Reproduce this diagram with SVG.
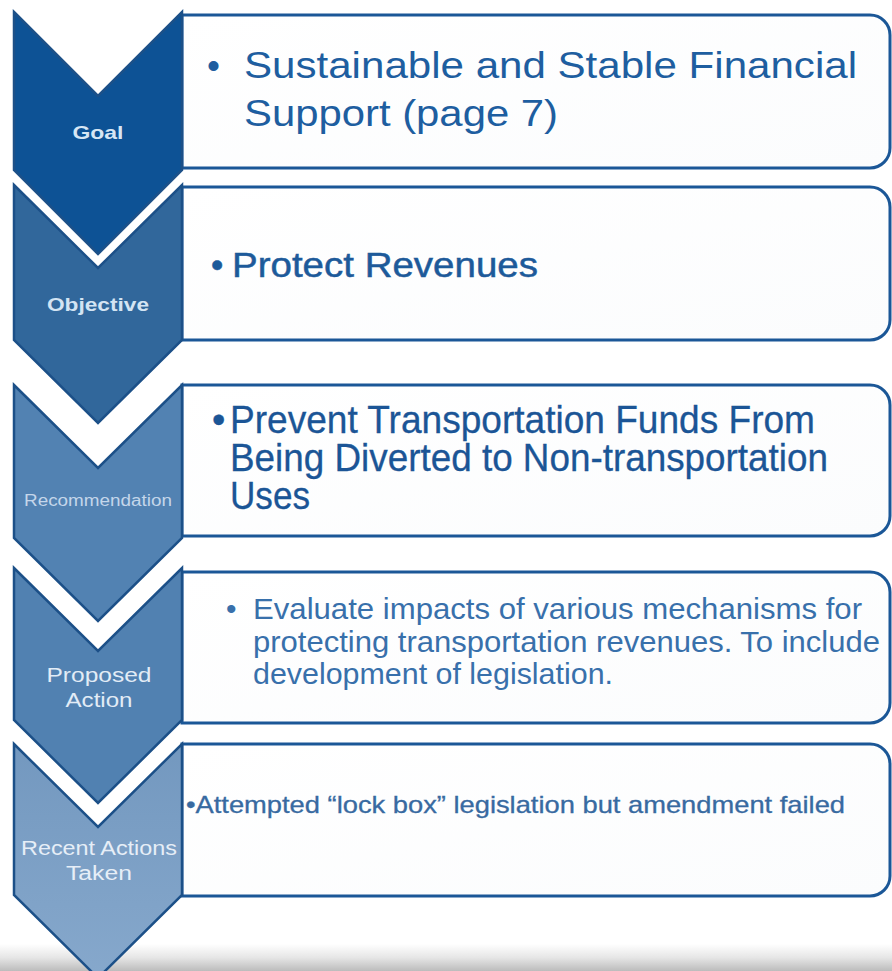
<svg xmlns="http://www.w3.org/2000/svg" width="892" height="971" viewBox="0 0 892 971">
<defs>
<linearGradient id="bar" x1="0" y1="0" x2="0" y2="1">
<stop offset="0" stop-color="#ffffff"/>
<stop offset="0.5" stop-color="#e6e6e6"/>
<stop offset="1" stop-color="#bcbcbc"/>
</linearGradient>
<linearGradient id="boxfill" x1="0" y1="0" x2="1" y2="1">
<stop offset="0" stop-color="#ffffff"/>
<stop offset="1" stop-color="#fbfcfd"/>
</linearGradient>
<linearGradient id="recentfill" x1="0" y1="0" x2="0" y2="1">
<stop offset="0" stop-color="#7398bf"/>
<stop offset="1" stop-color="#86a8cc"/>
</linearGradient>
</defs>
<style>
.box{fill:url(#boxfill);stroke:#1b5797;stroke-width:3}
.chev{stroke:#1c5088;stroke-width:2.5;stroke-linejoin:miter}
.lbl{font-family:"Liberation Sans",Arial,sans-serif;text-anchor:middle}
.txt{font-family:"Liberation Sans",Arial,sans-serif}
</style>
<rect x="0" y="0" width="892" height="971" fill="#ffffff"/>
<rect x="0" y="944" width="892" height="27" fill="url(#bar)"/>

<g id="node-goal">
<path class="box" d="M182,15 H870 A20,20 0 0 1 890,35 V148 A20,20 0 0 1 870,168 H182 Z"/>
<path class="chev" fill="#0d5295" stroke="#0d5295" d="M14,12 L98,96 L182,12 V170 L98,254 L14,170 Z"/>
<text class="lbl" x="98" y="139" font-size="19" font-weight="bold" fill="#d6e6f4" textLength="51" lengthAdjust="spacingAndGlyphs">Goal</text>
<text class="txt" x="207" y="78" font-size="37" fill="#1e5ea0">•</text>
<text class="txt" x="244" y="78" font-size="37" fill="#1e5ea0" textLength="613" lengthAdjust="spacingAndGlyphs">Sustainable and Stable Financial</text>
<text class="txt" x="244" y="126" font-size="37" fill="#1e5ea0" textLength="314" lengthAdjust="spacingAndGlyphs">Support (page 7)</text>
</g>

<g id="node-objective">
<path class="box" d="M182,187 H870 A20,20 0 0 1 890,207 V320 A20,20 0 0 1 870,340 H182 Z"/>
<path class="chev" fill="#31679b" d="M14,185 L98,268 L182,185 V340 L98,423 L14,340 Z"/>
<text class="lbl" x="98" y="311" font-size="19" font-weight="bold" fill="#d3e4f3" textLength="102" lengthAdjust="spacingAndGlyphs">Objective</text>
<text class="txt" x="211" y="277" font-size="35" fill="#1d5a9a" stroke="#1d5a9a" stroke-width="0.5">•</text>
<text class="txt" x="232" y="277" font-size="35" fill="#1d5a9a" stroke="#1d5a9a" stroke-width="0.5" textLength="306" lengthAdjust="spacingAndGlyphs">Protect Revenues</text>
</g>

<g id="node-recommendation">
<path class="box" d="M182,385 H870 A20,20 0 0 1 890,405 V516 A20,20 0 0 1 870,536 H182 Z"/>
<path class="chev" fill="#5282b2" d="M14,385 L98,468 L182,385 V538 L98,621 L14,538 Z"/>
<text class="lbl" x="98" y="506" font-size="16" fill="#c4d6ea" textLength="148" lengthAdjust="spacingAndGlyphs">Recommendation</text>
<text class="txt" x="212" y="433" font-size="38" fill="#1b5596" stroke="#1b5596" stroke-width="0.3">•</text>
<text class="txt" x="230" y="433" font-size="38" fill="#1b5596" stroke="#1b5596" stroke-width="0.3" textLength="585" lengthAdjust="spacingAndGlyphs">Prevent Transportation Funds From</text>
<text class="txt" x="230" y="471" font-size="38" fill="#1b5596" stroke="#1b5596" stroke-width="0.3" textLength="598" lengthAdjust="spacingAndGlyphs">Being Diverted to Non-transportation</text>
<text class="txt" x="230" y="509" font-size="38" fill="#1b5596" stroke="#1b5596" stroke-width="0.3" textLength="80" lengthAdjust="spacingAndGlyphs">Uses</text>
</g>

<g id="node-proposed">
<path class="box" d="M182,572 H870 A20,20 0 0 1 890,592 V703 A20,20 0 0 1 870,723 H182 Z"/>
<path class="chev" fill="#5181b1" d="M14,568 L98,651 L182,568 V720 L98,803 L14,720 Z"/>
<text class="lbl" x="99" y="682" font-size="21" fill="#e2ecf6" textLength="105" lengthAdjust="spacingAndGlyphs">Proposed</text>
<text class="lbl" x="99" y="707" font-size="21" fill="#e2ecf6" textLength="67" lengthAdjust="spacingAndGlyphs">Action</text>
<text class="txt" x="226" y="619" font-size="30" fill="#3870ab">•</text>
<text class="txt" x="253" y="619" font-size="30" fill="#3870ab" textLength="609" lengthAdjust="spacingAndGlyphs">Evaluate impacts of various mechanisms for</text>
<text class="txt" x="253" y="652" font-size="30" fill="#3870ab" textLength="627" lengthAdjust="spacingAndGlyphs">protecting transportation revenues.  To include</text>
<text class="txt" x="253" y="684" font-size="30" fill="#3870ab" textLength="360" lengthAdjust="spacingAndGlyphs">development of legislation.</text>
</g>

<g id="node-recent">
<path class="box" d="M182,744 H870 A20,20 0 0 1 890,764 V876 A20,20 0 0 1 870,896 H182 Z"/>
<path class="chev" fill="url(#recentfill)" d="M14,744 L98,827 L182,744 V895 L98,978 L14,895 Z"/>
<text class="lbl" x="99" y="855" font-size="20" fill="#e6eef7" textLength="156" lengthAdjust="spacingAndGlyphs">Recent Actions</text>
<text class="lbl" x="99" y="880" font-size="20" fill="#e6eef7" textLength="66" lengthAdjust="spacingAndGlyphs">Taken</text>
<text class="txt" x="186" y="813" font-size="24" fill="#386aa1" stroke="#386aa1" stroke-width="0.3" textLength="659" lengthAdjust="spacingAndGlyphs">•Attempted “lock box” legislation but amendment failed</text>
</g>

<g id="connectors"></g>
</svg>
